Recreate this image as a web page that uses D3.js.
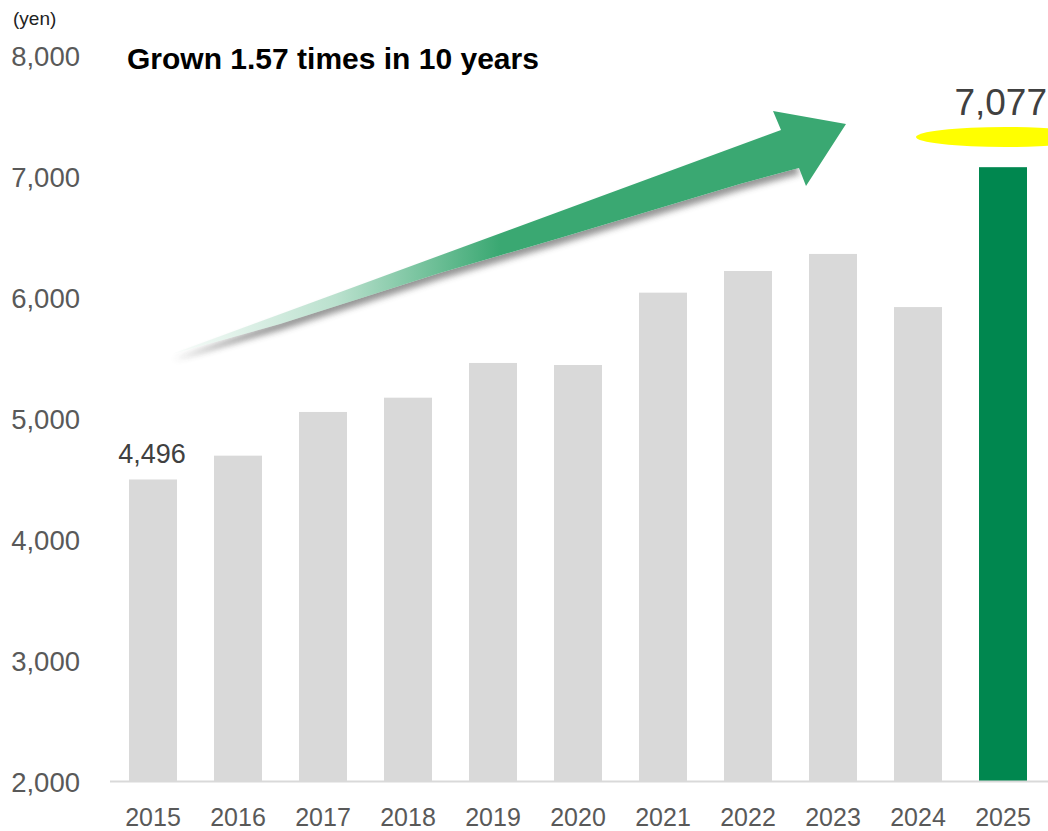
<!DOCTYPE html>
<html>
<head>
<meta charset="utf-8">
<script src="https://cdn.jsdelivr.net/npm/d3@7"></script>
<style>
  html, body { margin: 0; padding: 0; background: #fff; }
  svg { display: block; }
</style>
</head>
<body>
<svg id="chart" width="1048" height="831"></svg>
<script>
// ---- data ----
const years = ["2015","2016","2017","2018","2019","2020","2021","2022","2023","2024","2025"];
const values = [4496, 4693, 5054, 5172, 5459, 5442, 6040, 6219, 6360, 5921, 7077];
const yTicks = [2000, 3000, 4000, 5000, 6000, 7000, 8000];
const highlightYear = "2025";
const title = "Grown 1.57 times in 10 years";
const unitLabel = "(yen)";

// ---- layout ----
const W = 1048, H = 831;
const svg = d3.select("#chart");
const fmt = d3.format(",");

const x = d3.scaleBand()
  .domain(years)
  .range([110.5, 1045.5])
  .paddingInner(0.4353)
  .paddingOuter(0.2176);

const y = d3.scaleLinear().domain([2000, 8000]).range([781.5, 55.5]);

const FONT = "'Liberation Sans', Arial, sans-serif";

// y-axis tick labels
const yAxis = d3.axisLeft(y).tickValues(yTicks).tickFormat(fmt).tickSize(0).tickPadding(0);
const gy = svg.append("g").attr("transform", "translate(80,0)").call(yAxis);
gy.select(".domain").remove();
gy.selectAll("text")
  .attr("font-family", FONT)
  .attr("font-size", 27.5)
  .attr("fill", "#595959")
  .attr("dy", "0.36em");

// bars
svg.append("g").selectAll("rect")
  .data(years.map((d, i) => ({year: d, value: values[i]})))
  .join("rect")
  .attr("x", d => x(d.year))
  .attr("width", x.bandwidth())
  .attr("y", d => y(d.value))
  .attr("height", d => y(2000) - y(d.value))
  .attr("fill", d => d.year === highlightYear ? "#00874f" : "#d9d9d9");

// baseline
svg.append("line")
  .attr("x1", 110).attr("x2", W)
  .attr("y1", y(2000)).attr("y2", y(2000))
  .attr("stroke", "#d9d9d9").attr("stroke-width", 2);

// x-axis labels
const xAxis = d3.axisBottom(x).tickSize(0).tickPadding(0);
const gx = svg.append("g").attr("transform", `translate(0,${y(2000)})`).call(xAxis);
gx.select(".domain").remove();
gx.selectAll("text")
  .attr("font-family", FONT)
  .attr("font-size", 25)
  .attr("fill", "#595959")
  .attr("y", 44)
  .attr("dy", 0);

// unit label
svg.append("text")
  .attr("x", 13).attr("y", 25)
  .attr("font-family", FONT).attr("font-size", 19).attr("fill", "#222")
  .text(unitLabel);

// title
svg.append("text")
  .attr("x", 127).attr("y", 69)
  .attr("font-family", FONT).attr("font-size", 30).attr("font-weight", "bold")
  .attr("fill", "#000")
  .text(title);

// ---- growth arrow (decoration) ----
const defs = svg.append("defs");
const grad = defs.append("linearGradient")
  .attr("id", "arrowGrad").attr("gradientUnits", "userSpaceOnUse")
  .attr("x1", 172).attr("y1", 0).attr("x2", 500).attr("y2", 0);
grad.append("stop").attr("offset", 0).attr("stop-color", "#3aa872").attr("stop-opacity", 0.03);
grad.append("stop").attr("offset", 0.5).attr("stop-color", "#3aa872").attr("stop-opacity", 0.35);
grad.append("stop").attr("offset", 1).attr("stop-color", "#3aa872").attr("stop-opacity", 1);

const blur = defs.append("filter").attr("id", "shadowBlur")
  .attr("x", "-10%").attr("y", "-50%").attr("width", "120%").attr("height", "200%");
blur.append("feGaussianBlur").attr("stdDeviation", 3);

const shaft = [[172,354],[781,130],[799,168],[740,184],[560,238],[440,273],[280,324]];
const arrow = [[172,354],[781,130],[773,111],[846,124],[806,186],[799,168],[740,184],[560,238],[440,273],[280,324]];
const line = d3.line().curve(d3.curveLinearClosed);

svg.append("path")
  .attr("d", line(shaft))
  .attr("transform", "translate(1,6)")
  .attr("fill", "#404040").attr("opacity", 0.55)
  .attr("filter", "url(#shadowBlur)");
svg.append("path").attr("d", line(shaft)).attr("fill", "#fff");
svg.append("path").attr("d", line(arrow)).attr("fill", "url(#arrowGrad)");

// highlight ellipse behind last value
const lastIdx = years.length - 1;
svg.append("ellipse")
  .attr("cx", 1005).attr("cy", 137).attr("rx", 89).attr("ry", 10)
  .attr("fill", "#ffff00");

// value labels
svg.append("text")
  .attr("x", 1047).attr("y", 115)
  .attr("text-anchor", "end")
  .attr("font-family", FONT).attr("font-size", 37).attr("fill", "#404040")
  .text(fmt(values[lastIdx]));

svg.append("text")
  .attr("x", x(years[0]) + x.bandwidth() / 2 - 1).attr("y", 463)
  .attr("text-anchor", "middle")
  .attr("font-family", FONT).attr("font-size", 27).attr("fill", "#404040")
  .text(fmt(values[0]));
</script>
</body>
</html>
